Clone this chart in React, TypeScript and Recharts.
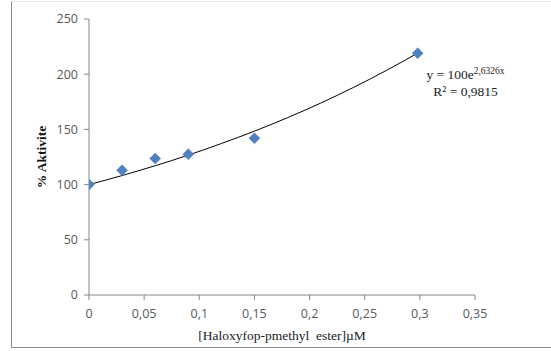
import React from "react";
import { ComposedChart, Scatter, Line, XAxis, YAxis } from "recharts";

const concentrations = [0, 0.03, 0.06, 0.09, 0.15, 0.298];
const activity = [100, 113, 123.6, 127.6, 142, 219];

const trendX = [0, 0.03, 0.06, 0.09, 0.12, 0.15, 0.18, 0.21, 0.24, 0.27, 0.298];
const trendY = [100, 108.2, 117.1, 126.7, 137.2, 148.4, 160.6, 173.8, 188.1, 203.6, 219.1];

const xTicks = [0, 0.05, 0.1, 0.15, 0.2, 0.25, 0.3, 0.35];
const yTicks = [0, 50, 100, 150, 200, 250];

const points = concentrations.map((x, i) => ({ x, y: activity[i] }));
const trend = trendX.map((x, i) => ({ x, t: trendY[i] }));

const Diamond = (props: any) => {
  const { cx, cy } = props;
  if (cx == null || cy == null) return null;
  const r = 5.5;
  return (
    <polygon
      points={`${cx},${cy - r} ${cx + r},${cy} ${cx},${cy + r} ${cx - r},${cy}`}
      fill="#4F81BD"
      stroke="#4A7EBB"
      strokeWidth={0.5}
    />
  );
};

const tickStyle = { fill: "#595959", fontSize: 12.5, fontFamily: "'Open Sans', 'Liberation Sans', sans-serif" };
const fmt = (v: number) => String(v).replace(".", ",");

export default function App() {
  return (
    <div style={{ position: "absolute", left: 0, top: 0, width: 551, height: 351, background: "#fff", overflow: "hidden" }}>
      <div
        style={{
          position: "absolute",
          left: 11,
          top: 1,
          width: 560,
          height: 347,
          borderLeft: "1px solid #8c8c8c",
          borderBottom: "1px solid #8c8c8c",
          borderTop: "1px solid #e6e6e6",
          boxSizing: "border-box",
        }}
      />
      <div style={{ position: "absolute", left: 0, top: 0 }}>
        <ComposedChart width={551} height={351} margin={{ top: 19, right: 76, bottom: 0, left: 29 }}>
          <XAxis
            type="number"
            dataKey="x"
            domain={[0, 0.35]}
            ticks={xTicks}
            tickFormatter={fmt}
            allowDataOverflow
            stroke="#868686"
            tickSize={5}
            tickMargin={9}
            tick={tickStyle}
            height={56}
            label={{
              value: "[Haloxyfop-pmethyl\u00a0 ester]µM",
              position: "insideBottom",
              offset: 11,
              style: { fill: "#222", fontSize: 13.5, fontFamily: "'Liberation Serif', serif" },
            }}
          />
          <YAxis
            type="number"
            domain={[0, 250]}
            ticks={yTicks}
            stroke="#868686"
            tickSize={5}
            tickMargin={6}
            tick={tickStyle}
            width={60}
            label={{
              value: "% Aktivite",
              angle: -90,
              position: "insideLeft",
              offset: 12,
              style: { fill: "#111", fontSize: 13.5, fontWeight: "bold", fontFamily: "'Liberation Serif', serif", textAnchor: "middle" },
            }}
          />
          <Line
            data={trend}
            dataKey="t"
            type="monotone"
            stroke="#000"
            strokeWidth={1}
            dot={false}
            activeDot={false}
            isAnimationActive={false}
          />
          <Scatter data={points} dataKey="y" shape={<Diamond />} isAnimationActive={false} />
        </ComposedChart>
      </div>
      <div
        style={{
          position: "absolute",
          left: 418,
          top: 67,
          width: 95,
          textAlign: "center",
          fontFamily: "'Liberation Serif', serif",
          fontSize: 13.5,
          color: "#222",
          lineHeight: "16.5px",
        }}
      >
        <div>
          y = 100e<sup style={{ fontSize: 9.5, verticalAlign: "5px", lineHeight: 0 }}>2,6326x</sup>
        </div>
        <div>R² = 0,9815</div>
      </div>
    </div>
  );
}
